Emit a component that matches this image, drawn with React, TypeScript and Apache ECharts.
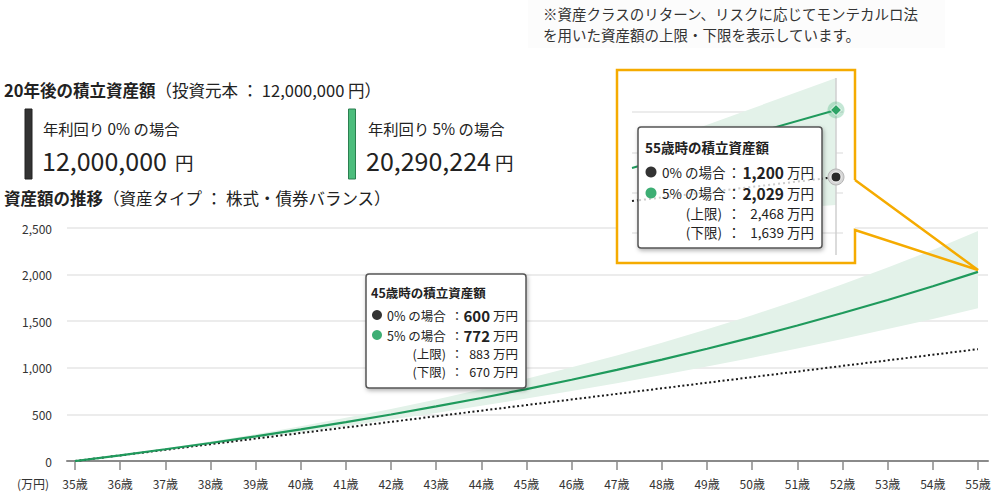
import React, { useEffect, useRef } from "react";
import * as echarts from "echarts";

const F = "'Noto Sans CJK JP','Noto Sans',sans-serif";

const ages = [35, 36, 37, 38, 39, 40, 41, 42, 43, 44, 45, 46, 47, 48, 49, 50, 51, 52, 53, 54, 55];
const rate0 = [0, 60, 120, 180, 240, 300, 360, 420, 480, 540, 600, 660, 720, 780, 840, 900, 960, 1020, 1080, 1140, 1200];
const rate5 = [0, 61, 126, 193, 264, 339, 417, 499, 586, 676, 772, 872, 978, 1088, 1204, 1326, 1454, 1588, 1728, 1875, 2029];
const upper = [0, 64, 134, 209, 288, 373, 463, 559, 661, 769, 883, 1005, 1133, 1269, 1413, 1565, 1726, 1896, 2075, 2265, 2468];
const lower = [0, 59, 118, 179, 242, 307, 374, 444, 516, 592, 670, 751, 835, 923, 1014, 1109, 1207, 1308, 1415, 1524, 1639];

const yTicks = [0, 500, 1000, 1500, 2000, 2500];

const noteLines = [
  "※資産クラスのリターン、リスクに応じてモンテカルロ法",
  "を用いた資産額の上限・下限を表示しています。",
];
const summaryLabels = ["年利回り 0% の場合", "年利回り 5% の場合"];
const summaryValues = ["12,000,000", "20,290,224"];

const tip45Title = "45歳時の積立資産額";
const tip45Labels = ["0% の場合", "5% の場合", "(上限)", "(下限)"];
const tip45Values = ["600", "772", "883", "670"];

const tip55Title = "55歳時の積立資産額";
const tip55Labels = ["0% の場合", "5% の場合", "(上限)", "(下限)"];
const tip55Values = ["1,200", "2,029", "2,468", "1,639"];

const GREEN = "#1f9a5c";
const DOT_GREEN = "#3dae74";
const BAND = "#e3f2e9";
const ORANGE = "#f5ab00";

function txt(x: number, y: number, text: string, size: number, o: any = {}) {
  return {
    type: "text",
    x,
    y,
    z: o.z ?? 100,
    silent: true,
    style: {
      text,
      fill: o.fill || "#222",
      fontSize: size,
      fontFamily: F,
      fontWeight: o.bold ? "bold" : "normal",
      textAlign: o.align || "left",
      textVerticalAlign: "middle",
      verticalAlign: "middle",
      align: o.align || "left",
    },
  };
}

type TipLayout = {
  box: [number, number, number, number];
  title: [number, number];
  circleX: number;
  circleR: number;
  labelX: number;
  colonX: number;
  valueRight: number;
  unitX: number;
  subRight: number;
  rows: number[];
  fs: number;
  vfs: number;
};

function tooltipBox(L: TipLayout, title: string, labels: string[], values: string[], z: number) {
  const els: any[] = [];
  const [bx, by, bw, bh] = L.box;
  els.push({
    type: "rect",
    z,
    silent: true,
    shape: { x: bx, y: by, width: bw, height: bh, r: 3 },
    style: {
      fill: "#fff",
      stroke: "#555",
      lineWidth: 1.5,
      shadowBlur: 4,
      shadowColor: "rgba(0,0,0,0.3)",
      shadowOffsetX: 1,
      shadowOffsetY: 2,
    },
  });
  els.push(txt(L.title[0], L.title[1], title, L.fs, { bold: true, z: z + 2 }));
  labels.forEach((lab, i) => {
    const y = L.rows[i];
    if (i < 2) {
      els.push({
        type: "circle",
        z: z + 2,
        silent: true,
        shape: { cx: L.circleX, cy: y, r: L.circleR },
        style: { fill: i === 0 ? "#333" : DOT_GREEN },
      });
      els.push(txt(L.labelX, y, lab, L.fs, { z: z + 2 }));
      els.push(txt(L.valueRight, y, values[i], L.vfs, { bold: true, align: "right", z: z + 2 }));
    } else {
      els.push(txt(L.subRight, y, lab, L.fs, { align: "right", z: z + 2 }));
      els.push(txt(L.valueRight, y, values[i], L.fs, { align: "right", z: z + 2 }));
    }
    els.push(txt(L.colonX, y, "：", L.fs, { align: "center", z: z + 2 }));
    els.push(txt(L.unitX, y, "万円", L.fs, { z: z + 2 }));
  });
  return els;
}

const tip45Layout: TipLayout = {
  box: [366, 274, 160, 114],
  title: [371, 292],
  circleX: 377,
  circleR: 5,
  labelX: 387,
  colonX: 457,
  valueRight: 490,
  unitX: 493,
  subRight: 446,
  rows: [315, 335, 353, 371],
  fs: 12.5,
  vfs: 15,
};

const tip55Layout: TipLayout = {
  box: [638, 127, 184, 121],
  title: [645, 147],
  circleX: 651,
  circleR: 5.5,
  labelX: 662,
  colonX: 734,
  valueRight: 784,
  unitX: 787,
  subRight: 722,
  rows: [172, 193, 213, 232],
  fs: 13.5,
  vfs: 15.5,
};

function buildOption() {
  const graphics: any[] = [];

  // Note at top-right
  graphics.push({
    type: "rect",
    z: 90,
    silent: true,
    shape: { x: 528, y: 0, width: 417, height: 48 },
    style: { fill: "#fcfcfc" },
  });
  graphics.push(txt(543, 13.5, noteLines[0], 14.5, { fill: "#333" }));
  graphics.push(txt(543, 34.5, noteLines[1], 14.5, { fill: "#333" }));

  const richTitle = (b: string, n: string, y: number) => ({
    type: "text",
    x: 4,
    y,
    z: 100,
    silent: true,
    style: {
      text: `{b|${b}}{n|${n}}`,
      textVerticalAlign: "middle",
      verticalAlign: "middle",
      rich: {
        b: { fontWeight: "bold", fontSize: 16.5, fontFamily: F, fill: "#222", color: "#222" },
        n: { fontSize: 16.5, fontFamily: F, fill: "#222", color: "#222" },
      },
    },
  });

  graphics.push(richTitle("20年後の積立資産額", "（投資元本 ： 12,000,000 円）", 90));

  // Summary bars
  graphics.push({
    type: "rect", z: 100, silent: true,
    shape: { x: 25, y: 109, width: 7, height: 70 },
    style: { fill: "#333", stroke: "#222", lineWidth: 1 },
  });
  graphics.push({
    type: "rect", z: 100, silent: true,
    shape: { x: 348.5, y: 109, width: 7, height: 70 },
    style: { fill: "#4cbd7c", stroke: "#2b7f50", lineWidth: 1 },
  });
  graphics.push(txt(43, 128, summaryLabels[0], 15.3));
  graphics.push(txt(368, 128, summaryLabels[1], 15.3));
  graphics.push(txt(42, 160, summaryValues[0], 25));
  graphics.push(txt(175, 162, "円", 18.5));
  graphics.push(txt(366, 160, summaryValues[1], 25));
  graphics.push(txt(495, 162, "円", 18.5));

  graphics.push(richTitle("資産額の推移", "（資産タイプ ： 株式・債券バランス）", 198));

  // Unit label
  graphics.push(txt(17, 483, "(万円)", 12, { fill: "#333" }));

  // Tooltip at 45
  graphics.push(...tooltipBox(tip45Layout, tip45Title, tip45Labels, tip45Values, 110));

  // Inset (zoomed view)
  const iz = 130;
  graphics.push({
    type: "rect", z: iz, silent: true,
    shape: { x: 617, y: 70, width: 238, height: 193 },
    style: { fill: "#fff" },
  });
  [112, 153, 193, 233].forEach((gy) => {
    graphics.push({
      type: "line", z: iz + 1, silent: true,
      shape: { x1: 632, y1: gy, x2: 843, y2: gy },
      style: { stroke: "#e6e6e6", lineWidth: 1.5 },
    });
  });
  graphics.push({
    type: "polygon", z: iz + 2, silent: true,
    shape: { points: [[690, 131], [836, 78], [836, 205], [690, 215]] },
    style: { fill: BAND },
  });
  graphics.push({
    type: "line", z: iz + 3, silent: true,
    shape: { x1: 836, y1: 78, x2: 836, y2: 255 },
    style: { stroke: "#cfcfcf", lineWidth: 1.5 },
  });
  graphics.push({
    type: "line", z: iz + 4, silent: true,
    shape: { x1: 632, y1: 168, x2: 836, y2: 110 },
    style: { stroke: GREEN, lineWidth: 2 },
  });
  graphics.push({
    type: "line", z: iz + 4, silent: true,
    shape: { x1: 632, y1: 201, x2: 836, y2: 177 },
    style: { stroke: "#222", lineWidth: 2.2, lineDash: [2, 3] },
  });
  graphics.push({
    type: "circle", z: iz + 5, silent: true,
    shape: { cx: 836, cy: 110, r: 8.5 },
    style: { fill: "rgba(61,174,116,0.3)" },
  });
  graphics.push({
    type: "polygon", z: iz + 6, silent: true,
    shape: { points: [[836, 104.5], [841.5, 110], [836, 115.5], [830.5, 110]] },
    style: { fill: "#2ea466", stroke: "#fff", lineWidth: 1 },
  });
  graphics.push({
    type: "circle", z: iz + 5, silent: true,
    shape: { cx: 836, cy: 177, r: 8 },
    style: { fill: "#d6d6d6", stroke: "#b5b5b5", lineWidth: 1 },
  });
  graphics.push({
    type: "circle", z: iz + 6, silent: true,
    shape: { cx: 836, cy: 177, r: 5 },
    style: { fill: "#2a2a2a", stroke: "#fff", lineWidth: 1 },
  });
  graphics.push(...tooltipBox(tip55Layout, tip55Title, tip55Labels, tip55Values, iz + 10));
  graphics.push({
    type: "line", z: iz + 11, silent: true,
    shape: { x1: 639, y1: 200.2, x2: 821, y2: 178.8 },
    style: { stroke: "#cccccc", lineWidth: 2, lineDash: [2, 3] },
  });
  graphics.push({
    type: "polyline", z: iz + 20, silent: true,
    shape: {
      points: [[855, 180], [855, 70], [617, 70], [617, 263], [855, 263], [855, 230], [978, 270], [855, 180]],
    },
    style: { stroke: ORANGE, lineWidth: 2.5, fill: null, lineJoin: "miter" },
  });

  return {
    animation: false,
    backgroundColor: "#fff",
    textStyle: { fontFamily: F },
    grid: { left: 67, right: 12, top: 228, bottom: 35, containLabel: false },
    xAxis: {
      type: "value",
      min: 34.823,
      max: 55.222,
      splitLine: { show: false },
      axisLine: { show: true, lineStyle: { color: "#8a8a8a", width: 2 } },
      axisTick: {
        show: true,
        customValues: ages,
        length: 9,
        lineStyle: { color: "#8a8a8a", width: 1.5 },
      },
      axisLabel: {
        customValues: ages,
        formatter: (v: number) => `${v}歳`,
        color: "#333",
        fontSize: 12,
        fontFamily: F,
        margin: 16,
      },
    },
    yAxis: {
      type: "value",
      min: 0,
      max: 2500,
      interval: 500,
      axisLine: { show: false },
      axisTick: { show: false },
      splitLine: { lineStyle: { color: "#e6e6e6", width: 1.5 } },
      axisLabel: {
        color: "#333",
        fontSize: 12,
        fontFamily: F,
        margin: 15,
        customValues: yTicks,
        formatter: (v: number) => v.toLocaleString("en-US"),
      },
    },
    series: [
      {
        type: "custom",
        name: "range",
        data: ages.map((a, i) => [a, lower[i], upper[i]]),
        encode: { x: 0, y: [1, 2] },
        silent: true,
        z: 1,
        renderItem: (params: any, api: any) => {
          if (params.dataIndex !== 0) return null;
          const top = ages.map((a, i) => api.coord([a, upper[i]]));
          const bot = ages.map((a, i) => api.coord([a, lower[i]])).reverse();
          return {
            type: "polygon",
            shape: { points: top.concat(bot) },
            style: { fill: BAND },
            silent: true,
          };
        },
      },
      {
        type: "line",
        name: "0%",
        data: ages.map((a, i) => [a, rate0[i]]),
        symbol: "none",
        lineStyle: { color: "#1a1a1a", width: 2, type: [2, 2.5] },
        z: 3,
      },
      {
        type: "line",
        name: "5%",
        data: ages.map((a, i) => [a, rate5[i]]),
        symbol: "none",
        lineStyle: { color: GREEN, width: 2.2 },
        z: 4,
      },
    ],
    graphic: { elements: graphics },
  };
}

export default function App() {
  const ref = useRef<HTMLDivElement>(null);
  useEffect(() => {
    if (!ref.current) return;
    const chart = echarts.init(ref.current, null, { renderer: "svg" });
    chart.setOption(buildOption() as any);
    return () => chart.dispose();
  }, []);
  return (
    <div
      ref={ref}
      style={{ position: "absolute", left: 0, top: 0, width: 1000, height: 496, background: "#fff" }}
    />
  );
}
